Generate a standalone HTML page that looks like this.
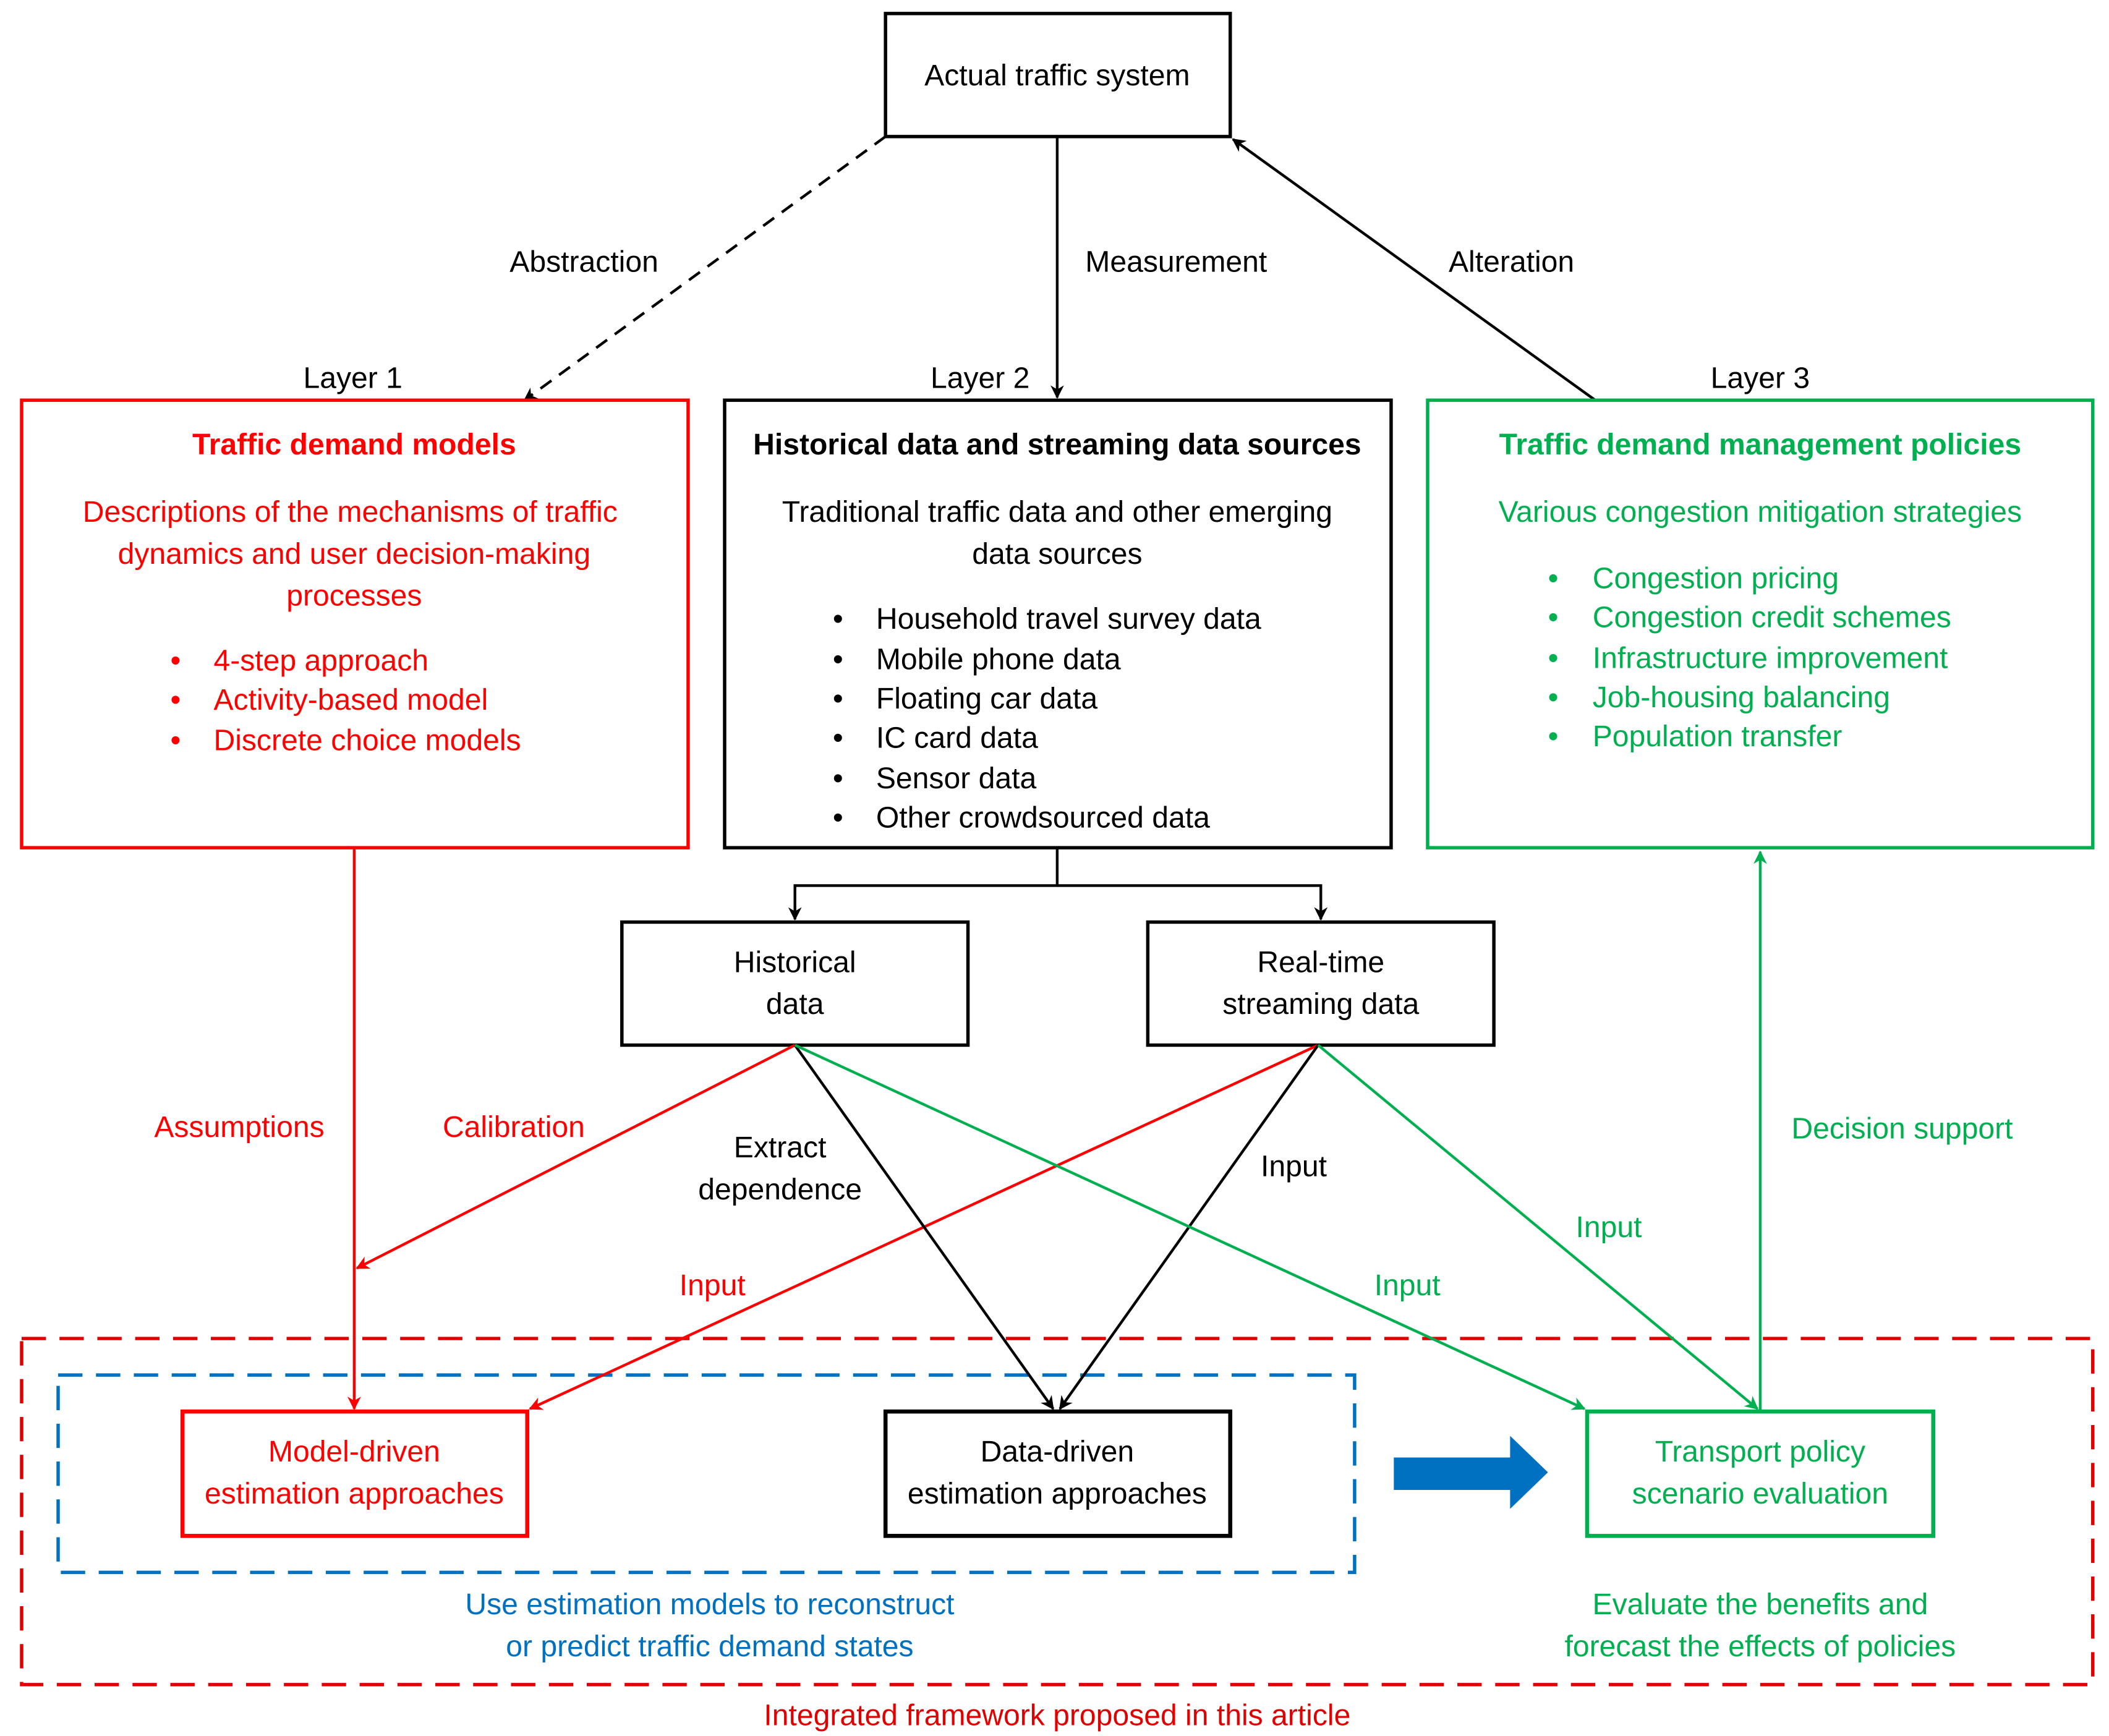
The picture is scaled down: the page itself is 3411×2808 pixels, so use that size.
<!DOCTYPE html>
<html><head><meta charset="utf-8"><style>
html,body{margin:0;padding:0;background:#fff;}
svg{display:block;}
text{font-family:"Liberation Sans",Arial,sans-serif;font-size:22px;}
</style></head><body>
<svg width="3411" height="2808" viewBox="0 0 1560 1284" preserveAspectRatio="none" xmlns="http://www.w3.org/2000/svg">
<defs>
<marker id="ak" markerWidth="10" markerHeight="10" refX="9" refY="5" orient="auto" markerUnits="userSpaceOnUse"><path d="M0,0 L10,5 L0,10 L3,5 Z" fill="#000"/></marker>
<marker id="ar" markerWidth="10" markerHeight="10" refX="9" refY="5" orient="auto" markerUnits="userSpaceOnUse"><path d="M0,0 L10,5 L0,10 L3,5 Z" fill="#ff0000"/></marker>
<marker id="ag" markerWidth="10" markerHeight="10" refX="9" refY="5" orient="auto" markerUnits="userSpaceOnUse"><path d="M0,0 L10,5 L0,10 L3,5 Z" fill="#00b050"/></marker>
</defs>

<!-- top box -->
<rect x="655" y="10" width="255" height="91" fill="none" stroke="#000" stroke-width="2.5"/>
<text x="782" y="63" text-anchor="middle">Actual traffic system</text>

<!-- top connectors -->
<line x1="655" y1="101" x2="388" y2="296" stroke="#000" stroke-width="2" stroke-dasharray="10,7" marker-end="url(#ak)"/>
<line x1="782" y1="101" x2="782" y2="294" stroke="#000" stroke-width="2" marker-end="url(#ak)"/>
<line x1="1180" y1="296" x2="912" y2="103" stroke="#000" stroke-width="2" marker-end="url(#ak)"/>
<text x="432" y="201" text-anchor="middle">Abstraction</text>
<text x="870" y="201" text-anchor="middle">Measurement</text>
<text x="1118" y="201" text-anchor="middle">Alteration</text>
<text x="261" y="287" text-anchor="middle">Layer 1</text>
<text x="725" y="287" text-anchor="middle">Layer 2</text>
<text x="1302" y="287" text-anchor="middle">Layer 3</text>

<!-- red box -->
<rect x="16" y="296" width="493" height="331" fill="none" stroke="#ff0000" stroke-width="2.5"/>
<g fill="#ff0000">
<text x="262" y="336" text-anchor="middle" font-weight="bold">Traffic demand models</text>
<text x="259" y="386" text-anchor="middle">Descriptions of the mechanisms of traffic</text>
<text x="262" y="417" text-anchor="middle">dynamics and user decision-making</text>
<text x="262" y="448" text-anchor="middle">processes</text>
<text x="126" y="496">•</text><text x="158" y="496">4-step approach</text>
<text x="126" y="525">•</text><text x="158" y="525">Activity-based model</text>
<text x="126" y="555">•</text><text x="158" y="555">Discrete choice models</text>
</g>

<!-- black box -->
<rect x="536" y="296" width="493" height="331" fill="none" stroke="#000" stroke-width="2.5"/>
<text x="782" y="336" text-anchor="middle" font-weight="bold">Historical data and streaming data sources</text>
<text x="782" y="386" text-anchor="middle">Traditional traffic data and other emerging</text>
<text x="782" y="417" text-anchor="middle">data sources</text>
<text x="616" y="465">•</text><text x="648" y="465">Household travel survey data</text>
<text x="616" y="495">•</text><text x="648" y="495">Mobile phone data</text>
<text x="616" y="524">•</text><text x="648" y="524">Floating car data</text>
<text x="616" y="553">•</text><text x="648" y="553">IC card data</text>
<text x="616" y="583">•</text><text x="648" y="583">Sensor data</text>
<text x="616" y="612">•</text><text x="648" y="612">Other crowdsourced data</text>

<!-- green box -->
<rect x="1056" y="296" width="492" height="331" fill="none" stroke="#00b050" stroke-width="2.5"/>
<g fill="#00b050">
<text x="1302" y="336" text-anchor="middle" font-weight="bold">Traffic demand management policies</text>
<text x="1302" y="386" text-anchor="middle">Various congestion mitigation strategies</text>
<text x="1145" y="435">•</text><text x="1178" y="435">Congestion pricing</text>
<text x="1145" y="464">•</text><text x="1178" y="464">Congestion credit schemes</text>
<text x="1145" y="494">•</text><text x="1178" y="494">Infrastructure improvement</text>
<text x="1145" y="523">•</text><text x="1178" y="523">Job-housing balancing</text>
<text x="1145" y="552">•</text><text x="1178" y="552">Population transfer</text>
</g>

<!-- split -->
<polyline points="782,627 782,655 588,655 588,680" fill="none" stroke="#000" stroke-width="2" marker-end="url(#ak)"/>
<polyline points="782,655 977,655 977,680" fill="none" stroke="#000" stroke-width="2" marker-end="url(#ak)"/>

<rect x="460" y="682" width="256" height="91" fill="none" stroke="#000" stroke-width="2.5"/>
<text x="588" y="719" text-anchor="middle">Historical</text>
<text x="588" y="750" text-anchor="middle">data</text>
<rect x="849" y="682" width="256" height="91" fill="none" stroke="#000" stroke-width="2.5"/>
<text x="977" y="719" text-anchor="middle">Real-time</text>
<text x="977" y="750" text-anchor="middle">streaming data</text>

<!-- outer dashed -->
<rect x="16" y="990" width="1532" height="256" fill="none" stroke="#e00000" stroke-width="2.5" stroke-dasharray="18,10"/>
<rect x="43" y="1017" width="959" height="146" fill="none" stroke="#0070c0" stroke-width="2.5" stroke-dasharray="18,10"/>

<!-- connectors -->
<line x1="262" y1="627" x2="262" y2="1042" stroke="#ff0000" stroke-width="2" marker-end="url(#ar)"/>
<line x1="588" y1="773" x2="264" y2="938" stroke="#ff0000" stroke-width="2" marker-end="url(#ar)"/>
<line x1="975" y1="773" x2="392" y2="1042" stroke="#ff0000" stroke-width="2" marker-end="url(#ar)"/>
<line x1="588" y1="773" x2="779" y2="1042" stroke="#000" stroke-width="2" marker-end="url(#ak)"/>
<line x1="975" y1="773" x2="784" y2="1042" stroke="#000" stroke-width="2" marker-end="url(#ak)"/>
<line x1="588" y1="773" x2="1172" y2="1042" stroke="#00b050" stroke-width="2" marker-end="url(#ag)"/>
<line x1="975" y1="773" x2="1300" y2="1042" stroke="#00b050" stroke-width="2" marker-end="url(#ag)"/>
<line x1="1302" y1="1044" x2="1302" y2="630" stroke="#00b050" stroke-width="2" marker-end="url(#ag)"/>

<g fill="#ff0000">
<text x="177" y="841" text-anchor="middle">Assumptions</text>
<text x="380" y="841" text-anchor="middle">Calibration</text>
<text x="527" y="958" text-anchor="middle">Input</text>
</g>
<text x="577" y="856" text-anchor="middle">Extract</text>
<text x="577" y="887" text-anchor="middle">dependence</text>
<text x="957" y="870" text-anchor="middle">Input</text>
<g fill="#00b050">
<text x="1041" y="958" text-anchor="middle">Input</text>
<text x="1190" y="915" text-anchor="middle">Input</text>
<text x="1407" y="842" text-anchor="middle">Decision support</text>
</g>

<!-- bottom boxes -->
<rect x="135" y="1044" width="255" height="92" fill="#fff" stroke="#ff0000" stroke-width="3"/>
<text x="262" y="1081" text-anchor="middle" fill="#ff0000">Model-driven</text>
<text x="262" y="1112" text-anchor="middle" fill="#ff0000">estimation approaches</text>
<rect x="655" y="1044" width="255" height="92" fill="#fff" stroke="#000" stroke-width="3"/>
<text x="782" y="1081" text-anchor="middle">Data-driven</text>
<text x="782" y="1112" text-anchor="middle">estimation approaches</text>
<rect x="1174" y="1044" width="256" height="92" fill="#fff" stroke="#00b050" stroke-width="3"/>
<text x="1302" y="1081" text-anchor="middle" fill="#00b050">Transport policy</text>
<text x="1302" y="1112" text-anchor="middle" fill="#00b050">scenario evaluation</text>

<!-- blue arrow -->
<polygon points="1031,1078 1117,1078 1117,1062 1145,1089 1117,1116 1117,1102 1031,1102" fill="#0070c0"/>

<text x="525" y="1194" text-anchor="middle" fill="#0070c0">Use estimation models to reconstruct</text>
<text x="525" y="1225" text-anchor="middle" fill="#0070c0">or predict traffic demand states</text>
<text x="1302" y="1194" text-anchor="middle" fill="#00b050">Evaluate the benefits and</text>
<text x="1302" y="1225" text-anchor="middle" fill="#00b050">forecast the effects of policies</text>
<text x="782" y="1276" text-anchor="middle" fill="#e00000">Integrated framework proposed in this article</text>
</svg>
</body></html>
